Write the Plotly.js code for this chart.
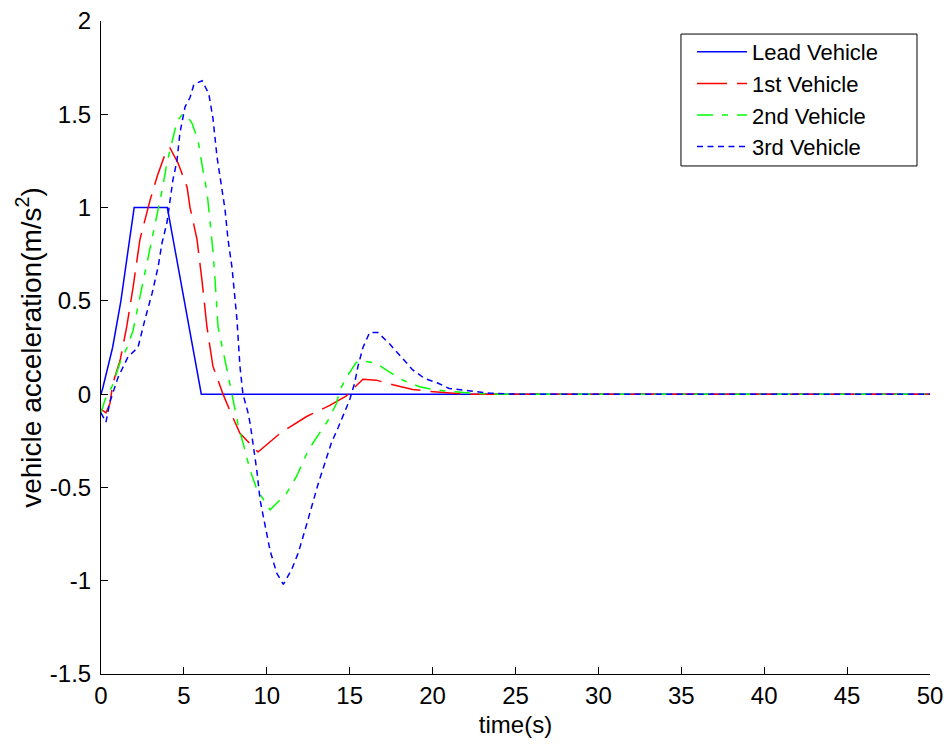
<!DOCTYPE html>
<html>
<head>
<meta charset="utf-8">
<script src="https://cdn.plot.ly/plotly-3.0.1.min.js"></script>
<style>html,body{margin:0;padding:0;background:#fff;}#chart{width:946px;height:747px;}</style>
</head>
<body>
<div id="chart"></div>
<script>
// Lead Vehicle
const leadT = [0, 0.1, 0.7, 1.2, 1.6, 2, 4, 6.05, 50];
const leadA = [0, 0.03, 0.25, 0.5, 0.75, 1, 1, 0, 0];
// 1st Vehicle
const v1T = [0,0.3,0.54,0.72,1.15,1.55,1.93,2.35,2.96,3.4,3.8,4.16,4.64,5.19,5.37,5.79,6.09,6.39,6.75,7.36,7.78,8.38,9.47,10.8,12.4,13.8,14.8,15.1,15.8,16.6,17.6,18.8,19.8,21,22,50];
const v1A = [-0.08,-0.1,-0.05,0.06,0.18,0.36,0.57,0.83,1.04,1.17,1.27,1.32,1.24,1.11,1.0,0.83,0.61,0.36,0.15,0,-0.09,-0.21,-0.31,-0.21,-0.12,-0.06,-0.01,0.02,0.08,0.075,0.05,0.025,0.015,0.005,0,0];
// 2nd Vehicle
const v2T = [0,0.24,0.66,1.15,1.57,1.93,2.23,2.53,2.83,3.08,3.38,3.68,3.98,4.28,4.58,4.9,5.2,5.5,5.85,6.15,6.4,6.57,6.75,6.88,7.06,7.6,7.96,8.26,8.56,9.0,9.4,10.2,11.2,11.8,12.5,13.2,13.7,14.2,14.4,14.8,15.4,15.7,16.6,17.2,18.2,19.2,20,21,22.4,24,50];
const v2A = [-0.1,-0.03,0.04,0.17,0.25,0.34,0.47,0.6,0.72,0.84,0.97,1.09,1.24,1.35,1.46,1.5,1.49,1.45,1.36,1.2,1.08,0.93,0.77,0.61,0.36,0.13,-0.02,-0.16,-0.26,-0.41,-0.51,-0.62,-0.53,-0.44,-0.30,-0.21,-0.14,-0.05,0.02,0.09,0.17,0.18,0.165,0.13,0.075,0.04,0.025,0.015,0.005,0,0];
// 3rd Vehicle
const v3T = [0,0.3,0.54,1.03,1.63,2.23,2.65,3.08,3.44,3.68,3.98,4.16,4.34,4.58,4.76,5.07,5.37,5.6,6.1,6.5,6.75,7.0,7.3,7.48,7.66,7.9,8.2,8.38,8.56,8.87,9.0,9.17,9.4,9.6,9.9,10.2,10.6,11.0,11.5,11.9,12.3,12.7,13.1,13.5,13.9,14.3,14.7,15.0,15.3,15.5,15.8,16.2,16.7,17.4,18.2,18.8,19.5,20.3,21.0,22.1,23.5,25,50];
const v3A = [-0.1,-0.15,-0.04,0.09,0.2,0.25,0.4,0.54,0.68,0.81,0.92,1.04,1.15,1.25,1.4,1.54,1.59,1.66,1.68,1.61,1.48,1.27,1.11,0.99,0.83,0.68,0.40,0.15,0.0,-0.1,-0.16,-0.26,-0.41,-0.57,-0.71,-0.84,-0.96,-1.02,-0.94,-0.85,-0.73,-0.6,-0.48,-0.37,-0.26,-0.18,-0.09,-0.03,0.06,0.15,0.25,0.33,0.33,0.27,0.19,0.13,0.085,0.06,0.03,0.02,0.005,0,0];

const names = ['Lead Vehicle', '1st Vehicle', '2nd Vehicle', '3rd Vehicle'];
const xTicks = [0,5,10,15,20,25,30,35,40,45,50];
const yTicks = [-1.5,-1,-0.5,0,0.5,1,1.5,2];

const FONT = 'Liberation Sans, Arial, Helvetica, sans-serif';

const traces = [
  {x: leadT, y: leadA, name: names[0], mode: 'lines', line: {color: '#0000ff', width: 1.5}},
  {x: v1T, y: v1A, name: names[1], mode: 'lines', line: {color: '#ff0000', width: 1.5, dash: '30px,10px'}},
  {x: v2T, y: v2A, name: names[2], mode: 'lines', line: {color: '#00ff00', width: 1.5, dash: '16px,9px,6px,9px'}},
  {x: v3T, y: v3A, name: names[3], mode: 'lines', line: {color: '#0000ff', width: 1.5, dash: '6px,4.5px'}}
];

const layout = {
  width: 946, height: 747,
  margin: {l: 101, r: 16, t: 21, b: 73},
  paper_bgcolor: '#ffffff', plot_bgcolor: '#ffffff',
  font: {family: FONT, size: 24, color: '#000'},
  showlegend: true,
  legend: {
    x: 0.7129, y: 0.9847, xanchor: 'left', yanchor: 'top',
    bgcolor: 'rgba(0,0,0,0)', borderwidth: 0,
    itemwidth: 50,
    font: {family: FONT, size: 22, color: '#000'}
  },
  shapes: [{
    type: 'rect', xref: 'paper', yref: 'paper',
    x0: 0.6996, x1: 0.9843, y0: 0.778, y1: 0.980,
    line: {color: '#000', width: 1}, fillcolor: '#ffffff', layer: 'below'
  }],
  xaxis: {
    range: [0, 50], tickvals: xTicks, ticktext: xTicks.map(String),
    ticks: 'inside', ticklen: 7, tickcolor: '#000', tickwidth: 1,
    showline: true, linecolor: '#000', linewidth: 1, mirror: false,
    showgrid: false, zeroline: false,
    tickfont: {family: FONT, size: 24},
    title: {text: 'time(s)', font: {family: FONT, size: 24}, standoff: 8}
  },
  yaxis: {
    range: [-1.5, 2], tickvals: yTicks, ticktext: yTicks.map(String),
    ticks: 'inside', ticklen: 7, tickcolor: '#000', tickwidth: 1,
    showline: true, linecolor: '#000', linewidth: 1, mirror: false,
    showgrid: false, zeroline: false,
    tickfont: {family: FONT, size: 24},
    ticklabelstandoff: 4,
    title: {text: 'vehicle acceleration(m/s<sup>2</sup>)', font: {family: FONT, size: 28}, standoff: 0}
  }
};

Plotly.newPlot('chart', traces, layout, {displayModeBar: false, staticPlot: true});
</script>
</body>
</html>
